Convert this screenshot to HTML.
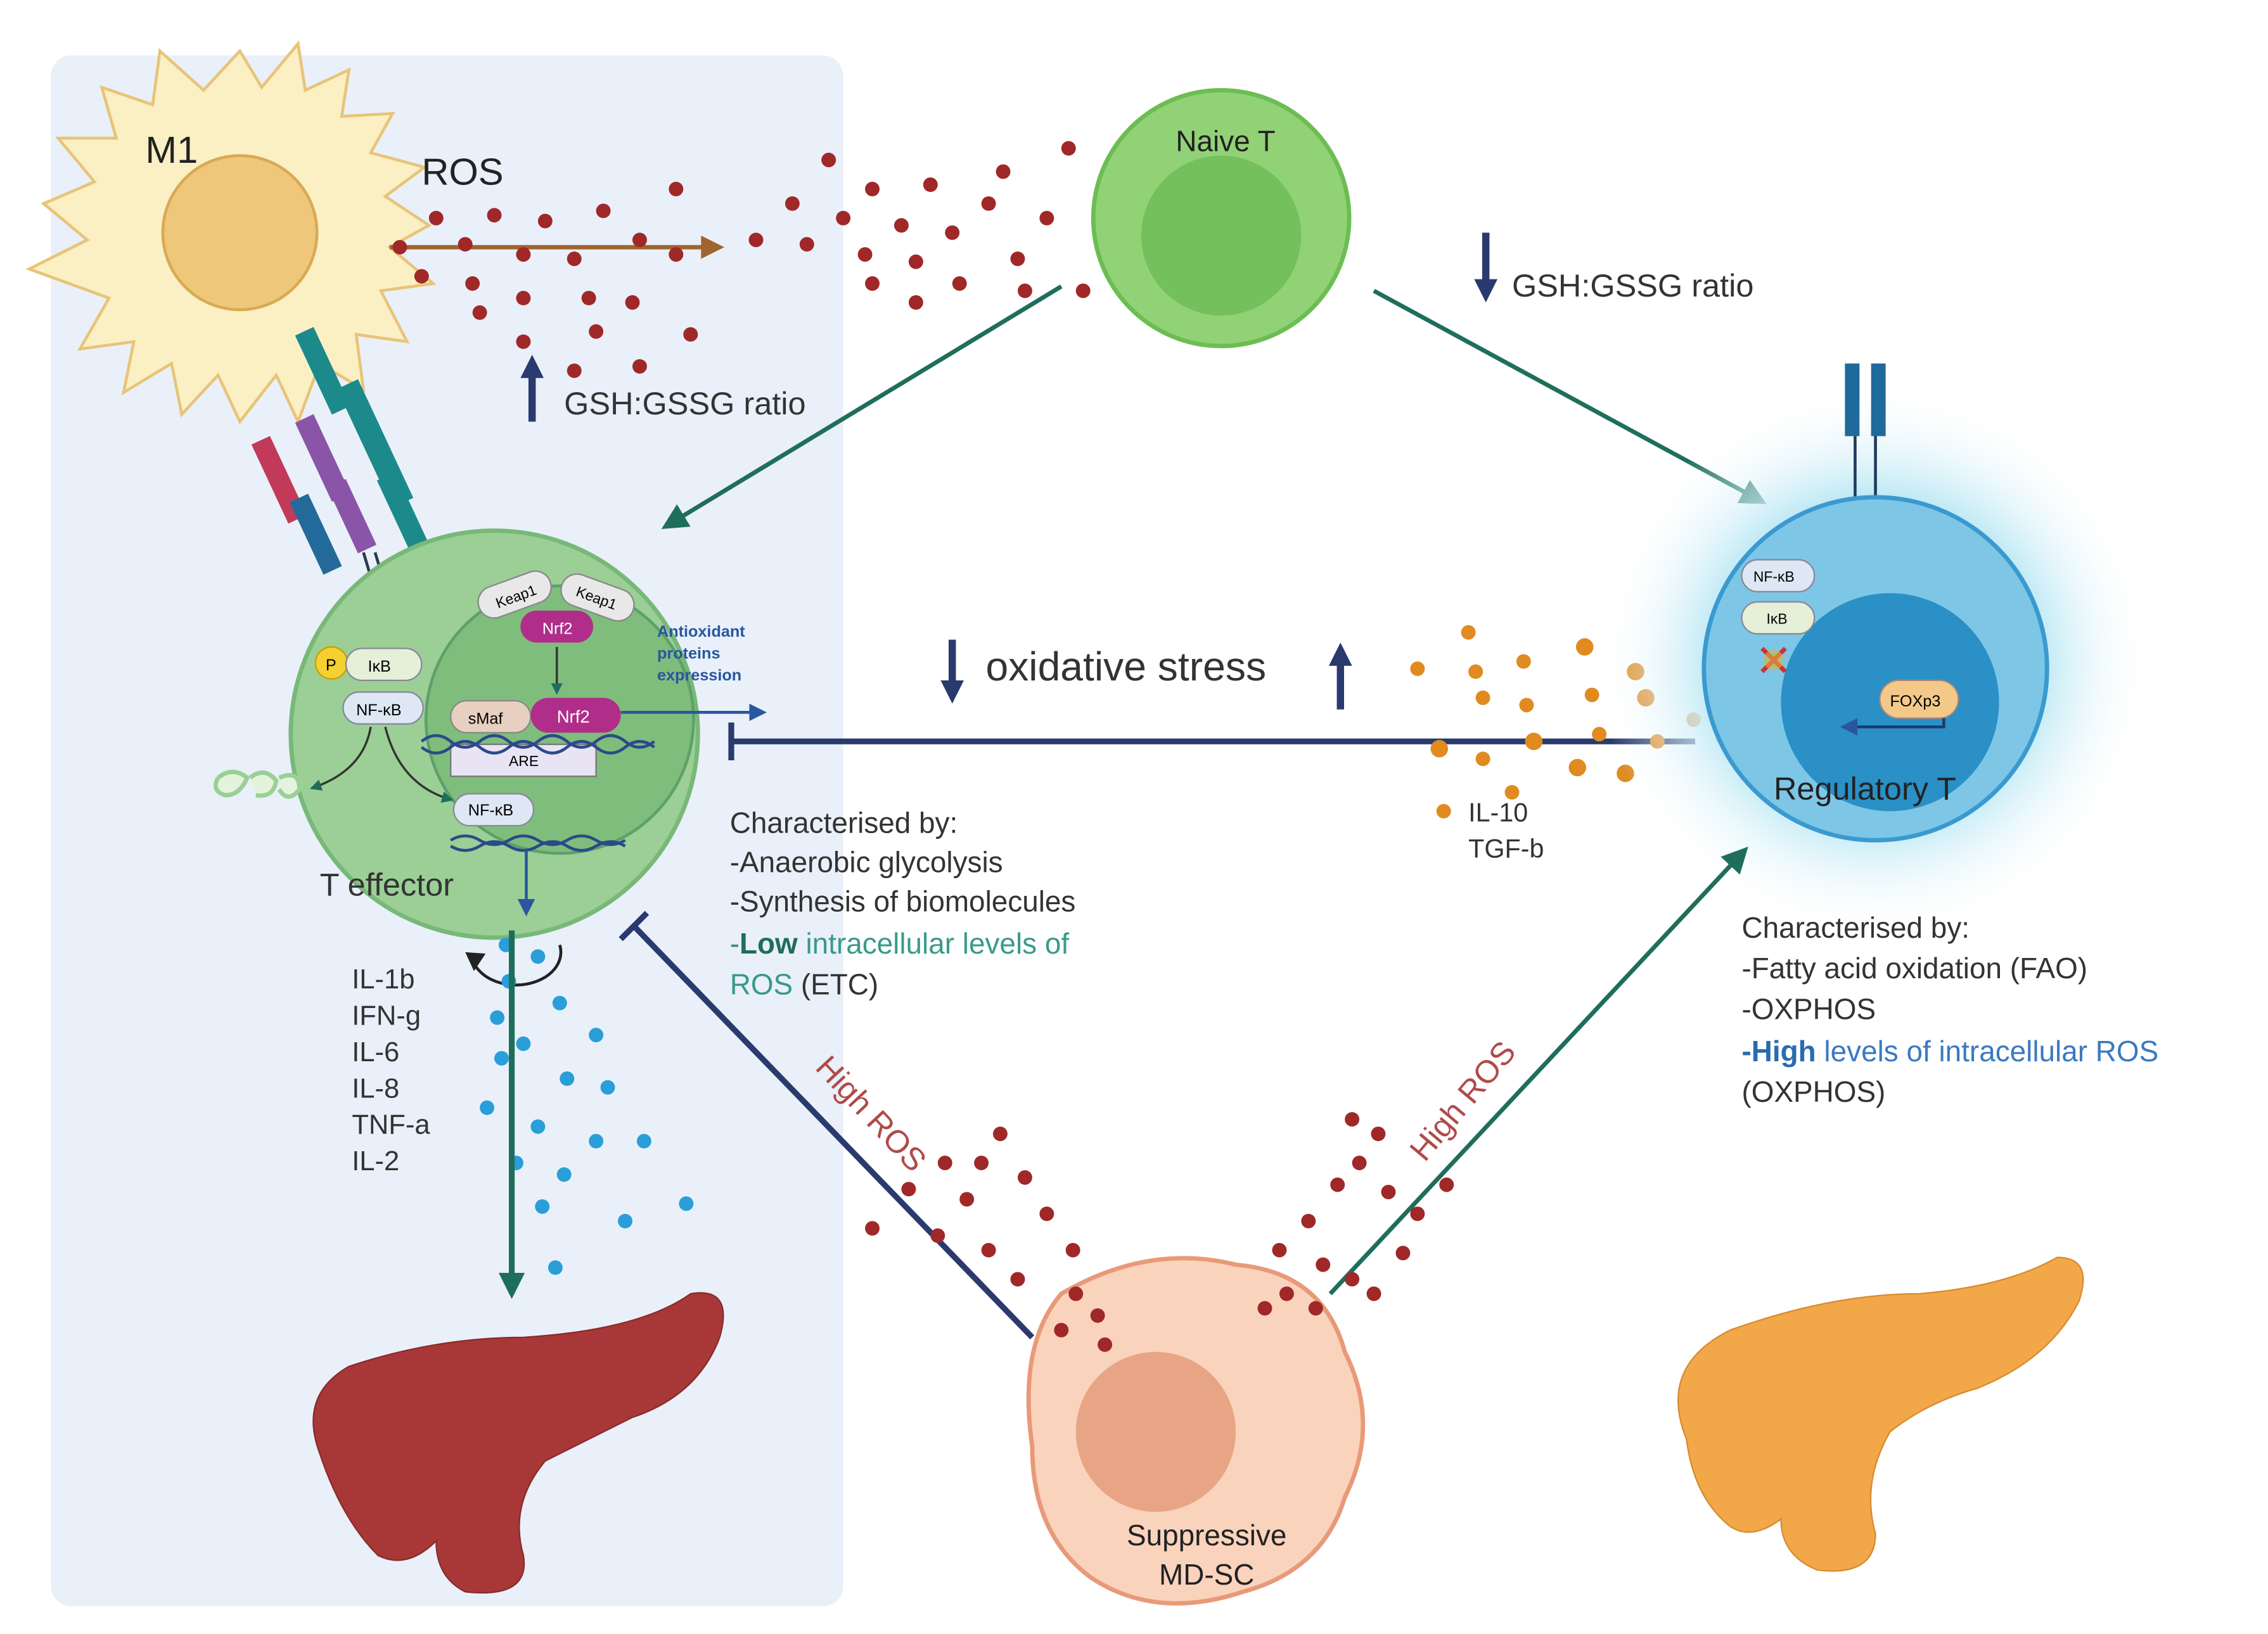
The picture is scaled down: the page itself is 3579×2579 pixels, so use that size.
<!DOCTYPE html>
<html><head><meta charset="utf-8"><style>
html,body{margin:0;padding:0;background:#fff;}
svg{display:block;}
text{font-family:"Liberation Sans",sans-serif;}
</style></head><body>
<svg width="3579" height="2579" viewBox="0 0 1560 1124" xmlns="http://www.w3.org/2000/svg">
<defs>
<marker id="ag" markerWidth="8" markerHeight="8" refX="6" refY="4" orient="auto" markerUnits="userSpaceOnUse"><path d="M0,0 L8,4 L0,8 z" fill="#1f6e5c"/></marker>
<marker id="agb" viewBox="0 0 10 10" markerWidth="18" markerHeight="18" refX="8" refY="5" orient="auto" markerUnits="userSpaceOnUse"><path d="M0,0 L10,5 L0,10 z" fill="#1f6e5c"/></marker>
<marker id="ab" viewBox="0 0 10 10" markerWidth="22" markerHeight="16" refX="8" refY="5" orient="auto" markerUnits="userSpaceOnUse"><path d="M0,0 L10,5 L0,10 z" fill="#a0642e"/></marker>
<marker id="an" viewBox="0 0 10 10" markerWidth="12" markerHeight="12" refX="8" refY="5" orient="auto" markerUnits="userSpaceOnUse"><path d="M0,0 L10,5 L0,10 z" fill="#2a56a0"/></marker>
<radialGradient id="glow"><stop offset="0.6" stop-color="#bfe9f5"/><stop offset="1" stop-color="#ffffff" stop-opacity="0"/></radialGradient>
</defs>
<rect x="35" y="38" width="545" height="1067" rx="14" fill="#e9f0f9"/>

<!-- M1 cell -->
<path d="M165,35 L180,60 L205,30 L210,62 L240,48 L235,80 L270,78 L255,105 L292,115 L265,135 L295,155 L268,170 L298,195 L262,200 L280,235 L245,230 L250,268 L220,250 L205,290 L190,258 L165,290 L150,258 L125,285 L118,250 L85,270 L92,235 L55,240 L75,205 L20,185 L60,165 L30,140 L65,125 L40,95 L80,95 L70,60 L105,72 L110,35 L140,62 Z" fill="#fbefc4" stroke="#e8c478" stroke-width="2"/>
<circle cx="165" cy="160" r="53" fill="#eec77a" stroke="#d9a955" stroke-width="2"/>
<text x="100" y="112" font-size="26" fill="#222">M1</text>
<text x="290" y="127" font-size="26" fill="#222">ROS</text>
<line x1="268" y1="170" x2="495" y2="170" stroke="#a0642e" stroke-width="3" marker-end="url(#ab)"/>

<!-- red ROS dots -->
<g fill="#a02828">
<circle cx="275" cy="170" r="5"/><circle cx="300" cy="150" r="5"/><circle cx="320" cy="168" r="5"/><circle cx="340" cy="148" r="5"/><circle cx="360" cy="175" r="5"/><circle cx="375" cy="152" r="5"/><circle cx="395" cy="178" r="5"/><circle cx="415" cy="145" r="5"/><circle cx="440" cy="165" r="5"/><circle cx="465" cy="130" r="5"/><circle cx="465" cy="175" r="5"/><circle cx="290" cy="190" r="5"/><circle cx="325" cy="195" r="5"/><circle cx="330" cy="215" r="5"/><circle cx="360" cy="205" r="5"/><circle cx="360" cy="235" r="5"/><circle cx="405" cy="205" r="5"/><circle cx="410" cy="228" r="5"/><circle cx="435" cy="208" r="5"/><circle cx="440" cy="252" r="5"/><circle cx="475" cy="230" r="5"/><circle cx="395" cy="255" r="5"/>
<circle cx="520" cy="165" r="5"/><circle cx="545" cy="140" r="5"/><circle cx="555" cy="168" r="5"/><circle cx="580" cy="150" r="5"/><circle cx="600" cy="130" r="5"/><circle cx="595" cy="175" r="5"/><circle cx="620" cy="155" r="5"/><circle cx="640" cy="127" r="5"/><circle cx="630" cy="180" r="5"/><circle cx="655" cy="160" r="5"/><circle cx="680" cy="140" r="5"/><circle cx="690" cy="118" r="5"/><circle cx="660" cy="195" r="5"/><circle cx="600" cy="195" r="5"/><circle cx="630" cy="208" r="5"/><circle cx="700" cy="178" r="5"/><circle cx="720" cy="150" r="5"/><circle cx="735" cy="102" r="5"/><circle cx="705" cy="200" r="5"/><circle cx="745" cy="200" r="5"/><circle cx="570" cy="110" r="5"/>
</g>
<!-- GSH up -->
<line x1="366" y1="290" x2="366" y2="258" stroke="#2a3a6e" stroke-width="5"/><path d="M358,260 L366,244 L374,260 Z" fill="#2a3a6e"/>
<text x="388" y="285" font-size="22" fill="#333">GSH:GSSG ratio</text>

<!-- Naive T -->
<circle cx="840" cy="150" r="88" fill="#92d277" stroke="#6cbd52" stroke-width="3"/>
<circle cx="840" cy="162" r="55" fill="#74c05c"/>
<text x="843" y="104" font-size="20" fill="#222" text-anchor="middle">Naive T</text>
<line x1="1022" y1="160" x2="1022" y2="196" stroke="#2a3a6e" stroke-width="5"/><path d="M1014,192 L1022,208 L1030,192 Z" fill="#2a3a6e"/>
<text x="1040" y="204" font-size="22" fill="#333">GSH:GSSG ratio</text>
<line x1="730" y1="197" x2="458" y2="362" stroke="#1f6e5c" stroke-width="3" marker-end="url(#agb)"/>
<line x1="945" y1="200" x2="1212" y2="345" stroke="#1f6e5c" stroke-width="3" marker-end="url(#agb)"/>

<!-- receptors -->
<g stroke-width="0">
<rect x="185" y="300" width="14" height="60" fill="#c23a5a" transform="rotate(-25 192 330)"/>
<rect x="215" y="285" width="14" height="60" fill="#8a55a8" transform="rotate(-25 222 315)"/>
<rect x="250" y="260" width="16" height="90" fill="#1c8a8a" transform="rotate(-25 258 305)"/>
<rect x="215" y="225" width="14" height="60" fill="#1c8a8a" transform="rotate(-25 222 255)"/>
<rect x="210" y="340" width="14" height="55" fill="#236a9a" transform="rotate(-25 217 367)"/>
<rect x="235" y="330" width="14" height="50" fill="#8a55a8" transform="rotate(-25 242 355)"/>
<rect x="270" y="325" width="14" height="55" fill="#1c8a8a" transform="rotate(-25 277 352)"/>
</g>
<g stroke="#2a3a4e" stroke-width="2"><line x1="250" y1="380" x2="262" y2="420"/><line x1="258" y1="380" x2="270" y2="420"/><line x1="285" y1="375" x2="290" y2="410"/><line x1="295" y1="375" x2="300" y2="410"/></g>

<!-- T effector -->
<circle cx="340" cy="505" r="140" fill="#9bcf95" stroke="#78b878" stroke-width="3"/>
<circle cx="385" cy="495" r="92" fill="#7fbd7c" stroke="#5ea06a" stroke-width="2"/>
<rect x="328" y="398" width="52" height="22" rx="11" fill="#e8e8e8" stroke="#888" transform="rotate(-20 354 409)"/><text x="340" y="414" font-size="10" transform="rotate(-20 354 409)">Keap1</text>
<rect x="385" y="400" width="52" height="22" rx="11" fill="#e8e8e8" stroke="#888" transform="rotate(20 411 411)"/><text x="396" y="415" font-size="10" transform="rotate(20 411 411)">Keap1</text>
<rect x="358" y="420" width="50" height="22" rx="11" fill="#b02e8a"/><text x="373" y="436" font-size="11" fill="#fff">Nrf2</text>
<line x1="383" y1="445" x2="383" y2="476" stroke="#333" stroke-width="1.5" marker-end="url(#ag)"/>
<rect x="310" y="482" width="55" height="22" rx="11" fill="#e8d0c0" stroke="#888"/><text x="322" y="498" font-size="11">sMaf</text>
<rect x="365" y="480" width="62" height="24" rx="12" fill="#b02e8a"/><text x="383" y="497" font-size="12" fill="#fff">Nrf2</text>
<rect x="310" y="512" width="100" height="22" fill="#e8e4f4" stroke="#777"/><text x="350" y="527" font-size="10">ARE</text>
<path d="M290,510 q10,-8 20,0 t20,0 t20,0 t20,0 t20,0 t20,0 t20,0 t20,0" fill="none" stroke="#2a4a8a" stroke-width="2"/>
<path d="M290,514 q10,8 20,0 t20,0 t20,0 t20,0 t20,0 t20,0 t20,0 t20,0" fill="none" stroke="#2a4a8a" stroke-width="2"/>
<path d="M310,578 q10,-6 20,0 t20,0 t20,0 t20,0 t20,0 t20,0" fill="none" stroke="#2a4a8a" stroke-width="2"/>
<path d="M310,582 q10,6 20,0 t20,0 t20,0 t20,0 t20,0 t20,0" fill="none" stroke="#2a4a8a" stroke-width="2"/>
<rect x="312" y="546" width="55" height="22" rx="11" fill="#dde8f4" stroke="#889"/><text x="322" y="561" font-size="11">NF-κB</text>
<path d="M427,490 L440,490 L440,490 L525,490" fill="none" stroke="#2a56a0" stroke-width="2" marker-end="url(#an)"/>
<text x="452" y="438" font-size="11" fill="#2a56a0" font-weight="bold">Antioxidant</text>
<text x="452" y="453" font-size="11" fill="#2a56a0" font-weight="bold">proteins</text>
<text x="452" y="468" font-size="11" fill="#2a56a0" font-weight="bold">expression</text>
<circle cx="228" cy="456" r="11" fill="#f5d030" stroke="#c9a000"/><text x="224" y="461" font-size="11">P</text>
<rect x="238" y="446" width="52" height="22" rx="11" fill="#e6f0d8" stroke="#889"/><text x="253" y="462" font-size="11">IκB</text>
<rect x="236" y="476" width="55" height="22" rx="11" fill="#dde8f4" stroke="#889"/><text x="245" y="492" font-size="11">NF-κB</text>
<path d="M255,500 q-5,30 -40,42" fill="none" stroke="#333" stroke-width="1.5" marker-end="url(#ag)"/>
<path d="M265,500 q10,40 45,50" fill="none" stroke="#333" stroke-width="1.5" marker-end="url(#ag)"/>
<path d="M150,535 q10,-8 20,0 q-5,12 -15,12 q-10,-3 -5,-12 M172,535 q10,-8 18,2 q-2,12 -14,10 M192,535 q14,-6 14,8 q-8,10 -14,0" fill="#e4f4dc" stroke="#9bcf95" stroke-width="3"/>
<line x1="362" y1="585" x2="362" y2="628" stroke="#2a56a0" stroke-width="2" marker-end="url(#an)"/>
<text x="220" y="616" font-size="22" fill="#333">T effector</text>

<!-- cytokines -->
<path d="M385,650 a30,22 0 1,1 -60,10" fill="none" stroke="#222" stroke-width="2"/><path d="M320,655 L326,668 L334,656 Z" fill="#222"/>
<g font-size="19" fill="#333"><text x="242" y="680">IL-1b</text><text x="242" y="705">IFN-g</text><text x="242" y="730">IL-6</text><text x="242" y="755">IL-8</text><text x="242" y="780">TNF-a</text><text x="242" y="805">IL-2</text></g>
<g fill="#2a9ed8">
<circle cx="348" cy="650" r="5"/><circle cx="370" cy="658" r="5"/><circle cx="350" cy="675" r="5"/><circle cx="385" cy="690" r="5"/><circle cx="342" cy="700" r="5"/><circle cx="360" cy="718" r="5"/><circle cx="410" cy="712" r="5"/><circle cx="345" cy="728" r="5"/><circle cx="390" cy="742" r="5"/><circle cx="418" cy="748" r="5"/><circle cx="335" cy="762" r="5"/><circle cx="370" cy="775" r="5"/><circle cx="410" cy="785" r="5"/><circle cx="443" cy="785" r="5"/><circle cx="355" cy="800" r="5"/><circle cx="388" cy="808" r="5"/><circle cx="373" cy="830" r="5"/><circle cx="430" cy="840" r="5"/><circle cx="472" cy="828" r="5"/><circle cx="382" cy="872" r="5"/>
</g>
<line x1="352" y1="640" x2="352" y2="890" stroke="#1f6e5c" stroke-width="4" marker-end="url(#agb)"/>

<!-- red pancreas -->
<path d="M220,1000 q-15,-40 20,-60 q60,-20 120,-20 q80,-5 115,-30 q30,-5 20,30 q-15,40 -60,55 q-30,15 -60,30 q-25,30 -15,65 q5,30 -40,25 q-20,-10 -20,-35 q-20,20 -40,10 q-25,-25 -40,-70 z" fill="#a83838" stroke="#8a2a2a"/>

<!-- oxidative stress -->
<line x1="655" y1="440" x2="655" y2="470" stroke="#2a3a6e" stroke-width="5"/><path d="M647,468 L655,484 L663,468 Z" fill="#2a3a6e"/>
<text x="678" y="468" font-size="28" fill="#333">oxidative stress</text>
<line x1="922" y1="488" x2="922" y2="456" stroke="#2a3a6e" stroke-width="5"/><path d="M914,458 L922,442 L930,458 Z" fill="#2a3a6e"/>
<line x1="1166" y1="510" x2="503" y2="510" stroke="#2a3a6e" stroke-width="4"/>
<line x1="503" y1="497" x2="503" y2="523" stroke="#2a3a6e" stroke-width="4"/>
<g fill="#e08a20">
<circle cx="1010" cy="435" r="5"/><circle cx="975" cy="460" r="5"/><circle cx="1015" cy="462" r="5"/><circle cx="1048" cy="455" r="5"/><circle cx="1090" cy="445" r="6"/><circle cx="1125" cy="462" r="6"/><circle cx="1020" cy="480" r="5"/><circle cx="1050" cy="485" r="5"/><circle cx="1095" cy="478" r="5"/><circle cx="1132" cy="480" r="6"/><circle cx="990" cy="515" r="6"/><circle cx="1020" cy="522" r="5"/><circle cx="1055" cy="510" r="6"/><circle cx="1085" cy="528" r="6"/><circle cx="1118" cy="532" r="6"/><circle cx="1100" cy="505" r="5"/><circle cx="1140" cy="510" r="5"/><circle cx="1040" cy="545" r="5"/><circle cx="993" cy="558" r="5"/><circle cx="1165" cy="495" r="5"/><circle cx="1185" cy="507" r="5"/><circle cx="1205" cy="485" r="5"/>
</g>
<text x="1010" y="565" font-size="18" fill="#333">IL-10</text>
<text x="1010" y="590" font-size="18" fill="#333">TGF-b</text>

<!-- Regulatory T -->
<circle cx="1290" cy="455" r="190" fill="url(#glow)"/>
<rect x="1269" y="250" width="10" height="50" fill="#1e6a9a"/><rect x="1287" y="250" width="10" height="50" fill="#1e6a9a"/>
<line x1="1276" y1="300" x2="1276" y2="345" stroke="#1e3a5e" stroke-width="2"/><line x1="1290" y1="300" x2="1290" y2="345" stroke="#1e3a5e" stroke-width="2"/>
<circle cx="1290" cy="460" r="118" fill="#7ec6e6" stroke="#3a9ad0" stroke-width="3"/>
<circle cx="1300" cy="483" r="75" fill="#2a90c6"/>
<rect x="1198" y="385" width="50" height="22" rx="11" fill="#dde8f4" stroke="#889"/><text x="1206" y="400" font-size="10">NF-κB</text>
<rect x="1198" y="414" width="50" height="22" rx="11" fill="#e6f0d8" stroke="#889"/><text x="1215" y="429" font-size="10">IκB</text>
<path d="M1212,446 l16,16 M1228,446 l-16,16" stroke="#d03030" stroke-width="3"/><circle cx="1220" cy="454" r="7" fill="#e0b040" opacity="0.6"/>
<rect x="1293" y="468" width="54" height="26" rx="13" fill="#f3c98a" stroke="#a87"/><text x="1300" y="486" font-size="11">FOXp3</text>
<path d="M1337,494 L1337,500 L1268,500" fill="none" stroke="#1e3a6e" stroke-width="2" marker-end="url(#an)"/>
<text x="1220" y="550" font-size="22" fill="#222">Regulatory T</text>

<!-- Characterised texts -->
<g font-size="20" fill="#333">
<text x="502" y="573">Characterised by:</text>
<text x="502" y="600">-Anaerobic glycolysis</text>
<text x="502" y="627">-Synthesis of biomolecules</text>
<text x="502" y="656"><tspan fill="#3a8a7a">-</tspan><tspan fill="#1f6e5c" font-weight="bold">Low</tspan><tspan fill="#3a9a8a"> intracellular levels of</tspan></text>
<text x="502" y="684"><tspan fill="#3a9a8a">ROS</tspan> (ETC)</text>
<text x="1198" y="645">Characterised by:</text>
<text x="1198" y="673">-Fatty acid oxidation (FAO)</text>
<text x="1198" y="701">-OXPHOS</text>
<text x="1198" y="730"><tspan fill="#2a6ab0" font-weight="bold">-High</tspan><tspan fill="#3a7ac0"> levels of intracellular  ROS</tspan></text>
<text x="1198" y="758">(OXPHOS)</text>
</g>

<!-- MDSC -->
<path d="M730,890 q60,-35 120,-20 q60,5 75,60 q25,50 0,100 q-15,50 -70,65 q-60,20 -105,-10 q-40,-30 -40,-90 q-10,-70 20,-105 z" fill="#fad3bd" stroke="#e89a78" stroke-width="3"/>
<circle cx="795" cy="985" r="55" fill="#e8a585"/>
<text x="830" y="1063" font-size="20" fill="#222" text-anchor="middle">Suppressive</text>
<text x="830" y="1090" font-size="20" fill="#222" text-anchor="middle">MD-SC</text>
<line x1="710" y1="920" x2="436" y2="637" stroke="#2a3a6e" stroke-width="4"/>
<line x1="427" y1="646" x2="445" y2="628" stroke="#2a3a6e" stroke-width="4"/>
<line x1="915" y1="890" x2="1200" y2="585" stroke="#1f6e5c" stroke-width="3" marker-end="url(#agb)"/>
<text x="0" y="0" font-size="22" fill="#b04a4a" transform="translate(560,735) rotate(47)">High ROS</text>
<text x="0" y="0" font-size="22" fill="#b04a4a" transform="translate(980,800) rotate(-50)">High ROS</text>
<g fill="#a02828">
<circle cx="600" cy="845" r="5"/><circle cx="625" cy="818" r="5"/><circle cx="650" cy="800" r="5"/><circle cx="665" cy="825" r="5"/><circle cx="688" cy="780" r="5"/><circle cx="705" cy="810" r="5"/><circle cx="645" cy="850" r="5"/><circle cx="680" cy="860" r="5"/><circle cx="720" cy="835" r="5"/><circle cx="738" cy="860" r="5"/><circle cx="700" cy="880" r="5"/><circle cx="740" cy="890" r="5"/><circle cx="755" cy="905" r="5"/><circle cx="730" cy="915" r="5"/><circle cx="760" cy="925" r="5"/><circle cx="675" cy="800" r="5"/>
<circle cx="880" cy="860" r="5"/><circle cx="900" cy="840" r="5"/><circle cx="920" cy="815" r="5"/><circle cx="935" cy="800" r="5"/><circle cx="948" cy="780" r="5"/><circle cx="930" cy="770" r="5"/><circle cx="955" cy="820" r="5"/><circle cx="975" cy="835" r="5"/><circle cx="995" cy="815" r="5"/><circle cx="910" cy="870" r="5"/><circle cx="885" cy="890" r="5"/><circle cx="905" cy="900" r="5"/><circle cx="930" cy="880" r="5"/><circle cx="945" cy="890" r="5"/><circle cx="965" cy="862" r="5"/><circle cx="870" cy="900" r="5"/>
</g>

<!-- orange pancreas -->
<path d="M1160,990 q-20,-50 30,-75 q70,-25 130,-25 q60,-5 95,-25 q25,0 15,30 q-20,40 -70,60 q-35,10 -60,30 q-20,35 -10,70 q0,30 -40,25 q-25,-10 -25,-35 q-20,15 -35,5 q-25,-20 -30,-60 z" fill="#f2a848" stroke="#d88a30"/>
</svg>
</body></html>
